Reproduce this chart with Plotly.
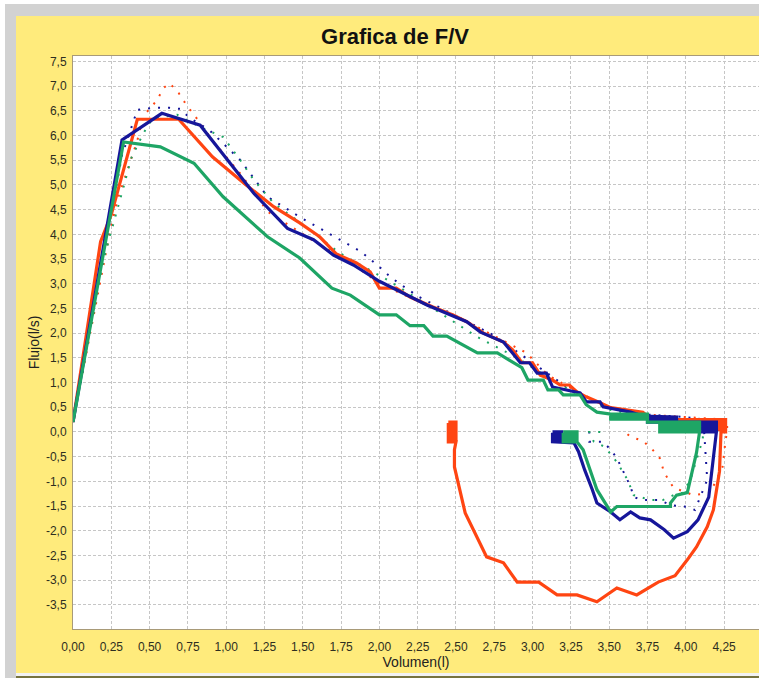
import plotly.graph_objects as go

# ---------------- data ----------------
red_vol = [0.0, 0.18, 0.25, 0.42, 0.69, 0.91, 1.13, 1.31, 1.48, 1.61, 1.72, 1.85, 1.94, 2.0, 2.11, 2.20,
           2.35, 2.48, 2.57, 2.68, 2.81, 2.87, 2.93, 3.0, 3.05, 3.13, 3.18, 3.24, 3.29, 3.35, 3.44, 3.51,
           3.60, 3.72, 3.75, 3.80, 4.20,
           4.26, 4.26, 4.20, 4.20, 4.26, 4.26, 4.20, 4.20, 4.26, 4.26, 4.23,
           4.22, 4.18, 4.14, 4.07, 4.01, 3.93, 3.82, 3.68, 3.55, 3.42, 3.29, 3.16, 3.04, 2.90, 2.81, 2.70,
           2.56, 2.49, 2.49,
           2.50, 2.45, 2.45, 2.50, 2.50, 2.45, 2.45, 2.50, 2.50, 2.45, 2.45, 2.50, 2.50, 2.45, 2.45, 2.50,
           2.50, 2.45]
red_flow = [0.2, 3.85, 4.4, 6.33, 6.33, 5.57, 5.0, 4.56, 4.23, 3.95, 3.6, 3.42, 3.24, 2.91, 2.91, 2.73,
            2.53, 2.37, 2.23, 2.0, 1.82, 1.66, 1.40, 1.40, 1.15, 1.05, 0.95, 0.95, 0.81, 0.71, 0.59, 0.49,
            0.45, 0.40, 0.32, 0.25, 0.25,
            0.25, 0.20, 0.20, 0.15, 0.15, 0.10, 0.10, 0.05, 0.05, 0.0, 0.0,
            -0.8, -1.58, -1.92, -2.33, -2.59, -2.91, -3.04, -3.30, -3.16, -3.44, -3.30, -3.30, -3.04, -3.04,
            -2.65, -2.53, -1.64, -0.71, -0.36,
            -0.20, -0.20, -0.15, -0.15, -0.10, -0.10, -0.05, -0.05, 0.0, 0.0, 0.05, 0.05, 0.10, 0.10, 0.15,
            0.15, 0.20, 0.20]

blue_vol = [0.0, 0.32, 0.58, 0.83, 1.18, 1.40, 1.57, 1.70, 1.83, 2.0, 2.31, 2.57, 2.66, 2.81, 2.92, 2.98,
            3.03, 3.09, 3.13, 3.22, 3.31, 3.35, 3.44, 3.46, 3.64, 3.72,
            3.94, 3.94, 3.75, 3.75, 4.20, 4.20, 4.11, 4.11, 4.20, 4.20, 4.11, 4.11, 4.20,
            4.15, 4.08, 4.01, 3.92, 3.86, 3.77, 3.70, 3.64, 3.57, 3.51, 3.42, 3.39, 3.34, 3.30, 3.27,
            3.13, 3.13, 3.19, 3.19, 3.13, 3.13, 3.19, 3.19, 3.13]
blue_flow = [0.2, 5.91, 6.45, 6.21, 4.83, 4.12, 3.89, 3.58, 3.38, 3.05, 2.57, 2.23, 2.02, 1.82, 1.40, 1.40,
             1.19, 1.19, 0.91, 0.85, 0.79, 0.61, 0.61, 0.51, 0.40, 0.32,
             0.30, 0.25, 0.25, 0.20, 0.20, 0.15, 0.15, 0.10, 0.10, 0.05, 0.05, 0.0, 0.0,
             -1.32, -1.78, -2.02, -2.15, -1.98, -1.78, -1.74, -1.62, -1.78, -1.62, -1.44, -1.17, -0.77,
             -0.40, -0.22,
             -0.20, -0.15, -0.15, -0.10, -0.10, -0.05, -0.05, 0.0, 0.0]

green_vol = [0.0, 0.33, 0.57, 0.79, 0.98, 1.27, 1.48, 1.69, 1.81, 2.0, 2.11, 2.20, 2.29, 2.35, 2.44, 2.64,
             2.77, 2.93, 2.97, 3.07, 3.10, 3.17, 3.20, 3.31, 3.35, 3.42,
             3.51, 3.75, 3.75, 3.51, 3.51, 3.75, 3.75, 4.09, 4.09, 3.83, 3.83, 4.09, 4.09, 3.83, 3.83, 4.09,
             4.07, 4.04, 4.01, 3.94, 3.90, 3.90, 3.55, 3.51, 3.42, 3.33, 3.29,
             3.29, 3.20, 3.20, 3.29, 3.29, 3.20, 3.20, 3.29, 3.29, 3.20]
green_flow = [0.2, 5.87, 5.77, 5.44, 4.76, 3.95, 3.52, 2.91, 2.77, 2.37, 2.37, 2.15, 2.15, 1.94, 1.94, 1.60,
              1.60, 1.30, 1.05, 1.05, 0.85, 0.85, 0.75, 0.75, 0.55, 0.40,
              0.36, 0.36, 0.31, 0.31, 0.26, 0.26, 0.20, 0.20, 0.15, 0.15, 0.10, 0.10, 0.05, 0.05, 0.0, 0.0,
              -0.42, -0.83, -1.23, -1.28, -1.44, -1.51, -1.51, -1.62, -1.17, -0.36, -0.22,
              -0.20, -0.20, -0.15, -0.15, -0.10, -0.10, -0.05, -0.05, 0.0, 0.0]

red_dot_vol = [0.0, 0.24, 0.29, 0.35, 0.42, 0.46, 0.55, 0.59, 0.63, 0.69, 0.74, 0.80, 0.91, 1.10, 1.27,
               1.59, 1.81, 2.0, 2.25, 2.5, 2.75, 2.96, 3.10, 3.30, 3.50, 3.75, 4.0, 4.27, 4.27, 4.26, 4.24,
               4.16, 4.05, 3.92, 3.86, 3.83, 3.78, 3.72, 3.64, 3.60]
red_dot_flow = [0.2, 4.03, 4.70, 5.24, 5.90, 6.40, 6.72, 6.96, 7.06, 6.86, 6.62, 6.38, 5.90, 5.20, 4.46,
                3.83, 3.44, 3.00, 2.65, 2.35, 1.95, 1.60, 1.15, 0.80, 0.50, 0.35, 0.30, 0.25, 0.0, -0.16,
                -0.71, -1.23, -1.28, -1.13, -0.83, -0.53, -0.35, -0.18, -0.10, 0.0]

blue_dot_vol = [0.0, 0.20, 0.32, 0.42, 0.52, 0.63, 0.70, 0.76, 0.89, 1.09, 1.27, 1.48, 1.57, 1.74, 1.88,
                2.0, 2.07, 2.15, 2.26, 2.5, 2.75, 3.0, 3.25, 3.5, 3.75, 4.0, 4.13, 4.12, 4.14, 4.06, 4.01,
                3.90, 3.83, 3.72, 3.66, 3.64, 3.59, 3.55, 3.51, 3.46, 3.37, 3.37]
blue_dot_flow = [0.2, 3.60, 5.60, 6.52, 6.56, 6.56, 6.54, 6.36, 6.11, 5.51, 4.76, 4.35, 4.19, 3.89, 3.65,
                 3.34, 3.14, 2.96, 2.73, 2.35, 1.95, 1.40, 0.85, 0.50, 0.35, 0.30, 0.25, 0.0, -0.97, -1.58,
                 -1.52, -1.48, -1.38, -1.38, -1.32, -1.11, -0.77, -0.53, -0.36, -0.20, -0.20, 0.0]

green_dot_vol = [0.0, 0.20, 0.33, 0.38, 0.46, 0.52, 0.68, 0.83, 0.98, 1.09, 1.18, 1.31, 1.50, 1.74, 2.05,
                 2.30, 2.64, 2.90, 3.10, 3.30, 3.50, 3.75, 4.0, 4.12, 4.11, 4.07, 4.03, 3.98, 3.92, 3.85,
                 3.77, 3.66, 3.62, 3.55, 3.47, 3.40, 3.37, 3.45]
green_dot_flow = [0.2, 3.50, 4.96, 5.54, 6.05, 6.35, 6.42, 6.17, 5.97, 5.51, 5.10, 4.63, 4.20, 3.62, 3.08,
                  2.60, 1.92, 1.50, 1.10, 0.75, 0.45, 0.30, 0.25, 0.20, -0.16, -0.55, -0.97, -1.23, -1.28,
                  -1.38, -1.38, -1.28, -0.97, -0.61, -0.30, -0.20, 0.0, 0.0]

x_ticks = [0.0, 0.25, 0.5, 0.75, 1.0, 1.25, 1.5, 1.75, 2.0, 2.25, 2.5, 2.75, 3.0, 3.25, 3.5, 3.75, 4.0, 4.25]
y_ticks = [-3.5, -3.0, -2.5, -2.0, -1.5, -1.0, -0.5, 0.0, 0.5, 1.0, 1.5, 2.0, 2.5, 3.0, 3.5, 4.0, 4.5,
           5.0, 5.5, 6.0, 6.5, 7.0, 7.5]
x_labels = [f"{v:.2f}".replace(".", ",") for v in x_ticks]
y_labels = [f"{v:.1f}".replace(".", ",") for v in y_ticks]

# ---------------- styles ----------------
RED = "#FF4512"
BLUE = "#16169A"
GREEN = "#1EA565"
YELLOW = "#FFEB7C"
FONT = "Liberation Sans, Arial, sans-serif"

fig = go.Figure()
for xv, yv, c in [(red_dot_vol, red_dot_flow, RED), (blue_dot_vol, blue_dot_flow, BLUE),
                  (green_dot_vol, green_dot_flow, GREEN)]:
    fig.add_trace(go.Scatter(x=xv, y=yv, mode="lines",
                             line=dict(color=c, width=2, dash="2px,8px"), showlegend=False))
for xv, yv, c in [(red_vol, red_flow, RED), (blue_vol, blue_flow, BLUE), (green_vol, green_flow, GREEN)]:
    fig.add_trace(go.Scatter(x=xv, y=yv, mode="lines", line=dict(color=c, width=3.2),
                             showlegend=False))

# background frame strips (paper coords; plot area 73..759 x 56..629 px)
def px_x(p):
    return (p - 73) / 686.0

def px_y(p):
    return (629 - p) / 573.0

shapes = [
    dict(x0=px_x(0), x1=px_x(5), y0=px_y(678), y1=px_y(0), color="#FFFFFF"),
    dict(x0=px_x(5), x1=px_x(16), y0=px_y(678), y1=px_y(4), color="#D2D2D2"),
    dict(x0=px_x(0), x1=px_x(759), y0=px_y(4), y1=px_y(0), color="#FFFFFF"),
    dict(x0=px_x(5), x1=px_x(759), y0=px_y(16), y1=px_y(4), color="#D2D2D2"),
    dict(x0=px_x(16), x1=px_x(759), y0=px_y(676), y1=px_y(673), color="#F2F2F2"),
    dict(x0=px_x(16), x1=px_x(759), y0=px_y(678), y1=px_y(676), color="#77733F"),
]
for s in shapes:
    fig.add_shape(type="rect", xref="paper", yref="paper", x0=s["x0"], x1=s["x1"],
                  y0=s["y0"], y1=s["y1"], fillcolor=s["color"], line=dict(width=0), layer="below")

axis_font = dict(family=FONT, size=12, color="#2E2E20")
fig.update_layout(
    width=759, height=678,
    margin=dict(l=73, r=0, t=56, b=49, autoexpand=False),
    paper_bgcolor=YELLOW, plot_bgcolor="white",
    title=dict(text="<b>Grafica de F/V</b>", x=395 / 759, xref="container", xanchor="center",
               y=1 - 36 / 678, yref="container", yanchor="middle",
               font=dict(family=FONT, size=22, color="#111111")),
    xaxis=dict(range=[0, 4.478], tickvals=x_ticks, ticktext=x_labels, tickfont=axis_font,
               showgrid=True, gridcolor="#C6C6C6", griddash="3px,2px", gridwidth=1,
               zeroline=False, showline=True, linecolor="#A89A78", linewidth=1, mirror=True,
               ticks="outside", ticklen=7, tickcolor="rgba(0,0,0,0)", automargin=False,
               title=dict(text="Volumen(l)", standoff=3,
                          font=dict(family=FONT, size=14, color="#222222"))),
    yaxis=dict(range=[-3.99, 7.61], tickvals=y_ticks, ticktext=y_labels, tickfont=axis_font,
               showgrid=True, gridcolor="#C6C6C6", griddash="3px,2px", gridwidth=1,
               zeroline=False, showline=True, linecolor="#A89A78", linewidth=1, mirror=True,
               ticks="outside", ticklen=3, tickcolor="rgba(0,0,0,0)", automargin=False,
               title=dict(text="Flujo(l/s)", standoff=3,
                          font=dict(family=FONT, size=14, color="#222222"))),
)

fig.write_html("out.html", config={"displayModeBar": False},
               post_script="document.body.style.margin='0';document.body.style.overflow='hidden';")
